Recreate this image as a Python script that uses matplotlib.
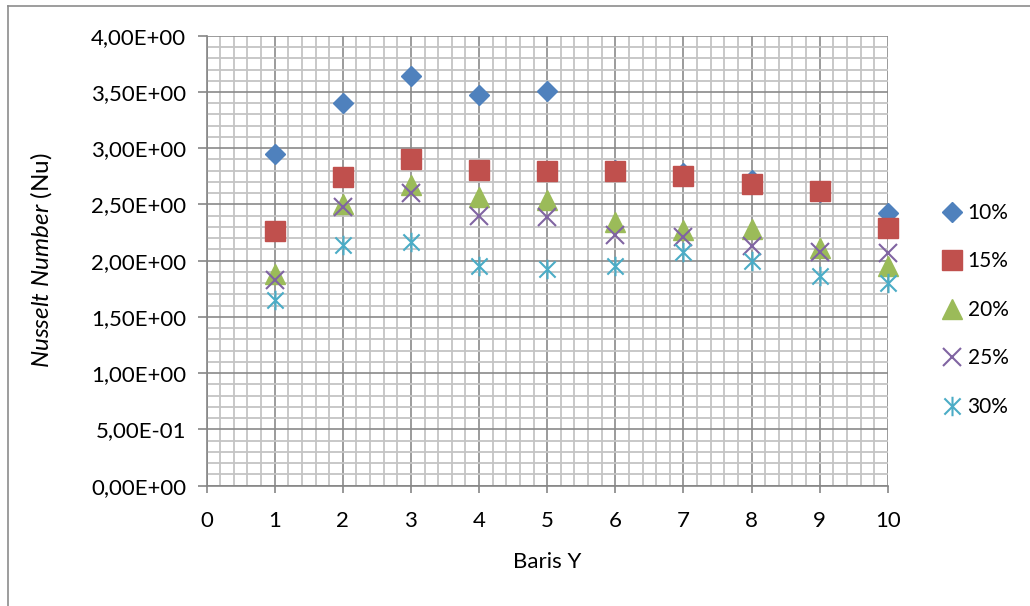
import matplotlib
matplotlib.use("Agg")
import matplotlib.pyplot as plt
from matplotlib.path import Path
from matplotlib.ticker import MultipleLocator, FuncFormatter
from matplotlib.lines import Line2D

# Nusselt number per row (Baris Y) for each fraction
baris = [1, 2, 3, 4, 5, 6, 7, 8, 9, 10]
nu_10 = [2.95, 3.40, 3.64, 3.47, 3.51, 2.81, 2.78, 2.72, 2.61, 2.42]
nu_15 = [2.26, 2.74, 2.90, 2.81, 2.80, 2.80, 2.75, 2.68, 2.62, 2.29]
nu_20 = [1.88, 2.50, 2.67, 2.57, 2.54, 2.34, 2.27, 2.28, 2.11, 1.95]
nu_25 = [1.83, 2.48, 2.60, 2.40, 2.39, 2.23, 2.21, 2.13, 2.08, 2.07]
nu_30 = [1.65, 2.14, 2.17, 1.95, 1.93, 1.95, 2.08, 2.00, 1.86, 1.80]
series_labels = ["10%", "15%", "20%", "25%", "30%"]

plt.rcParams["font.family"] = ["Lato", "DejaVu Sans"]
plt.rcParams["mathtext.fontset"] = "custom"
plt.rcParams["mathtext.it"] = "Lato:italic"
plt.rcParams["mathtext.rm"] = "Lato"

# star marker: an X with a vertical stroke
star = Path(
    [(-0.5, -0.5), (0.5, 0.5), (-0.5, 0.5), (0.5, -0.5), (0, -0.6), (0, 0.6)],
    [Path.MOVETO, Path.LINETO, Path.MOVETO, Path.LINETO, Path.MOVETO, Path.LINETO],
)

fig = plt.figure(figsize=(10.30, 6.06), dpi=100)
ax = fig.add_axes([0.2005, 0.1985, 0.6615, 0.7425])

styles = [
    dict(marker="D", color="#4F81BD", ms=10.5, ls="none"),
    dict(marker="s", color="#C0504D", ms=14.0, ls="none"),
    dict(marker="^", color="#9BBB59", ms=14.0, ls="none"),
    dict(marker="x", color="#8064A2", ms=12.5, mew=1.5, ls="none"),
    dict(marker=star, color="#4BACC6", ms=14.0, mew=1.5, ls="none"),
]
values = [nu_10, nu_15, nu_20, nu_25, nu_30]
handles = []
for vals, st, lab in zip(values, styles, series_labels):
    h, = ax.plot(baris, vals, label=lab, zorder=3, clip_on=False, **st)
    handles.append(h)

ax.set_xlim(0, 10)
ax.set_ylim(0, 4.0)
ax.xaxis.set_major_locator(MultipleLocator(1))
ax.xaxis.set_minor_locator(MultipleLocator(0.2))
ax.yaxis.set_major_locator(MultipleLocator(0.5))
ax.yaxis.set_minor_locator(MultipleLocator(0.1))
ax.yaxis.set_major_formatter(
    FuncFormatter(lambda v, p: f"{v:.2E}".replace(".", ","))
)

ax.grid(which="minor", color="#C4C4C4", lw=1.3, zorder=0)
ax.grid(which="major", color="#8A8A8A", lw=1.2, zorder=1)
ax.set_axisbelow(True)

for side in ("top", "right"):
    ax.spines[side].set_visible(False)
for side in ("left", "bottom"):
    ax.spines[side].set_color("#868686")
    ax.spines[side].set_linewidth(1.2)

ax.tick_params(which="major", axis="y", length=6.5, width=1.2, color="#868686",
               pad=8, labelsize=16)
ax.tick_params(which="major", axis="x", length=5, width=1.2, color="#868686",
               pad=13.5, labelsize=16)
ax.tick_params(which="minor", length=0)

ax.set_xlabel("Baris Y", fontsize=16, labelpad=15)
ax.set_ylabel(r"$\mathit{Nusselt\ Number}$ (Nu)", fontsize=17.5, labelpad=27)

fig.legend(handles=handles, loc="upper left", bbox_to_anchor=(0.907, 0.679),
           frameon=False, fontsize=15, handlelength=0.9, handletextpad=0.3,
           labelspacing=1.37, borderaxespad=0)

# outer chart border (left and top edges)
fig.add_artist(Line2D([0.0073, 0.0073], [0, 0.9905], color="#8C8C8C", lw=1.2,
                      transform=fig.transFigure))
fig.add_artist(Line2D([0.0073, 1.0], [0.9905, 0.9905], color="#8C8C8C", lw=1.2,
                      transform=fig.transFigure))

fig.savefig("out.png", dpi=100)
